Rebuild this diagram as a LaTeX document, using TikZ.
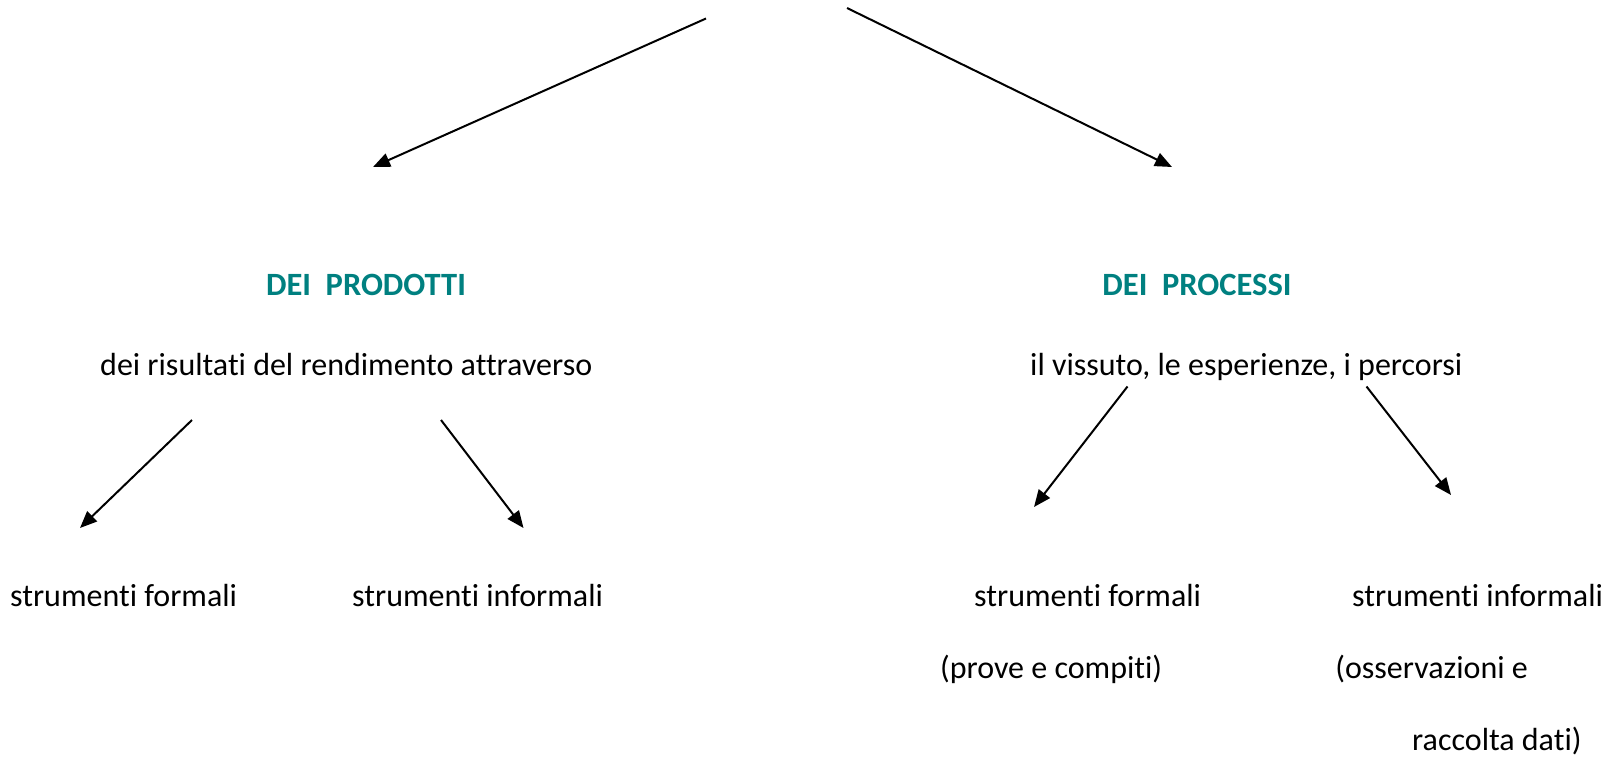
\documentclass[tikz,border=0pt]{standalone}
\usepackage{fontspec}
\setmainfont[Ligatures=NoCommon]{Carlito}
\usetikzlibrary{arrows.meta}
\definecolor{tealhead}{RGB}{0,128,128}
\tikzset{
  txt/.style={inner sep=0pt, anchor=base west, font=\fontsize{32}{40}\selectfont},
  head/.style={inner sep=0pt, anchor=base, font=\fontsize{32.5}{40}\selectfont\bfseries, text=tealhead},
  arr/.style={line width=2pt, -{Triangle[length=17pt,width=14pt]}}
}
\begin{document}
\begin{tikzpicture}[x=1pt,y=-1pt]
\useasboundingbox (0,0) rectangle (1616,761);
% top arrows
\coordinate (t1s) at (706,18.5);
\coordinate (t1e) at (373,167);
\coordinate (t2s) at (847,8);
\coordinate (t2e) at (1172,167);
\draw[arr] (t1s) -- (t1e);
\draw[arr] (t2s) -- (t2e);
% headers
\node[head] (prod) at (366,295) {DEI\ \ PRODOTTI};
\node[head] (proc) at (1197,295) {DEI\ \ PROCESSI};
% second lines
\node[txt] (ris) at (100,375) {dei risultati del rendimento attraverso};
\node[txt] (vis) at (1030,375) {il vissuto, le esperienze, i percorsi};
% lower arrows
\coordinate (a3s) at (192,420);
\coordinate (a3e) at (80,528);
\coordinate (a4s) at (441,420);
\coordinate (a4e) at (523.5,528);
\coordinate (a5s) at (1127.5,386.5);
\coordinate (a5e) at (1034,507);
\coordinate (a6s) at (1366.5,386.5);
\coordinate (a6e) at (1451,495);
\draw[arr] (a3s) -- (a3e);
\draw[arr] (a4s) -- (a4e);
\draw[arr] (a5s) -- (a5e);
\draw[arr] (a6s) -- (a6e);
% bottom texts
\node[txt] (sf1) at (10,606) {strumenti formali};
\node[txt] (si1) at (352,606) {strumenti informali};
\node[txt] (sf2) at (974,606) {strumenti formali};
\node[txt] (si2) at (1352,606) {strumenti informali};
\node[txt] (pc) at (940,678) {(prove e compiti)};
\node[txt, anchor=base east] (oss) at (1528,678) {(osservazioni e};
\node[txt] (rd) at (1412,750) {raccolta dati)};
\end{tikzpicture}
\end{document}
